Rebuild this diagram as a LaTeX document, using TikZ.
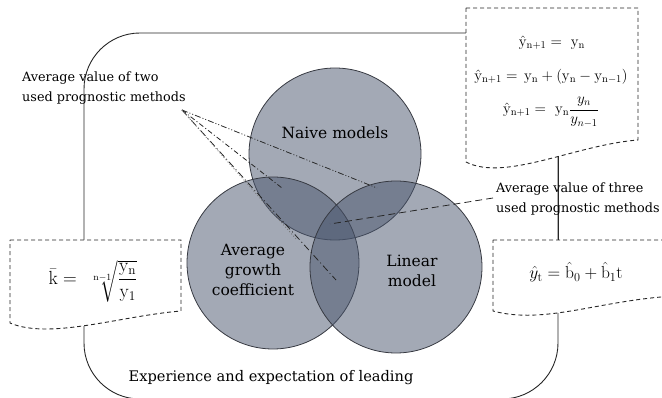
\RequirePackage{fix-cm}
\documentclass[tikz,border=0pt]{standalone}
\usepackage{amsmath}
\usepackage[no-math]{fontspec}
\setmainfont{DejaVu Serif}
\definecolor{slate}{RGB}{72,84,108}
\definecolor{edge}{RGB}{55,58,66}
\begin{document}
\begin{tikzpicture}[x=1pt,y=-1pt,
  frame/.style={draw=black!85, line width=0.9pt},
  docbox/.style={draw=black!85, line width=0.9pt, dash pattern=on 4pt off 3pt, fill=white},
  venn/.style={circle, minimum size=172pt, inner sep=0pt, fill=slate, fill opacity=0.5, draw=edge, draw opacity=1, line width=0.8pt},
  lbl/.style={font=\fontsize{12.8}{20}\selectfont, align=left, inner sep=0pt},
  ctext/.style={font=\fontsize{15.5}{20}\selectfont, align=center, inner sep=0pt},
  fml/.style={font=\fontsize{15}{20}\selectfont, inner sep=0pt},
  ptr/.style={draw=black!85, line width=0.8pt}
]
\useasboundingbox (0,0) rectangle (662,398);
\clip (0,0) rectangle (662,398);
% outer frame
\draw[frame, rounded corners=56pt] (84,33) rectangle (558,399);
% document boxes
\path[docbox] (466,8) -- (638,8) -- (638,140) .. controls (575,145) and (505,182) .. (466,162) -- cycle;
\path[docbox] (10,240) -- (181,240) -- (181,311) .. controls (120,316) and (50,340) .. (10,323) -- cycle;
\path[docbox] (493,240) -- (675,240) -- (675,296) .. controls (600,300) and (545,325) .. (493,311) -- cycle;
\draw[frame] (558,157) -- (558,240);
% circles
\node[venn] (naive) at (335,154) {};
\node[venn] (agc) at (273,263) {};
\node[venn] (lin) at (396,267) {};
% texts in circles
\node[ctext] (tnaive) at (335,133) {Naive models};
\node[ctext] (tagc) at (253,270) {Average\\growth\\coefficient};
\node[ctext] (tlin) at (412,271) {Linear\\model};
% labels
\node[lbl, anchor=west] (two) at (22,88) {Average value of two\\used prognostic methods};
\node[lbl, anchor=west] (three) at (496,199) {Average value of three\\used prognostic methods};
\node[font=\fontsize{14.6}{20}\selectfont, inner sep=0pt] (exp) at (271,378) {Experience and expectation of leading};
% pointer coordinates
\coordinate (s2) at (182,110);
\coordinate (p1) at (377,188);
\coordinate (p2) at (282,188);
\coordinate (p3) at (336,280);
\coordinate (p4) at (297,240);
\coordinate (s3) at (493,198);
\coordinate (q) at (330,224);
\draw[ptr, dash pattern=on 6pt off 2pt on 1pt off 2pt on 1pt off 2pt] (s2) -- (p1);
\draw[ptr, dash pattern=on 5pt off 2.5pt on 1pt off 2.5pt] (s2) -- (p2);
\draw[ptr, dash pattern=on 7pt off 3pt on 1pt off 3pt] (s2) -- (p3);
\draw[ptr, draw=black!55, dash pattern=on 1pt off 2pt] (s2) -- (p4);
\draw[ptr, dash pattern=on 7pt off 4pt] (s3) -- (q);
% formulas
\node[fml] (f1) at (552,43) {$\hat{\mathrm{y}}_{\mathrm{n+1}} =\ \mathrm{y}_{\mathrm{n}}$};
\node[fml] (f2) at (551,77) {$\hat{\mathrm{y}}_{\mathrm{n+1}} =\,\mathrm{y}_{\mathrm{n}} + (\mathrm{y}_{\mathrm{n}} - \mathrm{y}_{\mathrm{n-1}})$};
\node[fml] (f3) at (551,112) {$\hat{\mathrm{y}}_{\mathrm{n+1}} =\ \mathrm{y}_{\mathrm{n}}\dfrac{y_n}{y_{n-1}}$};
\node[font=\fontsize{19}{24}\selectfont, inner sep=0pt] (fk) at (93,281) {$\bar{\mathrm{k}} =\ \sqrt[\mathrm{n-1}]{\dfrac{\mathrm{y}_{\mathrm{n}}}{\mathrm{y}_{1}}}$};
\node[font=\fontsize{17.5}{22}\selectfont, inner sep=0pt] (fy) at (576,272) {$\hat{y}_{\mathrm{t}} = \hat{\mathrm{b}}_{0} + \hat{\mathrm{b}}_{1}\mathrm{t}$};
\end{tikzpicture}
\end{document}
